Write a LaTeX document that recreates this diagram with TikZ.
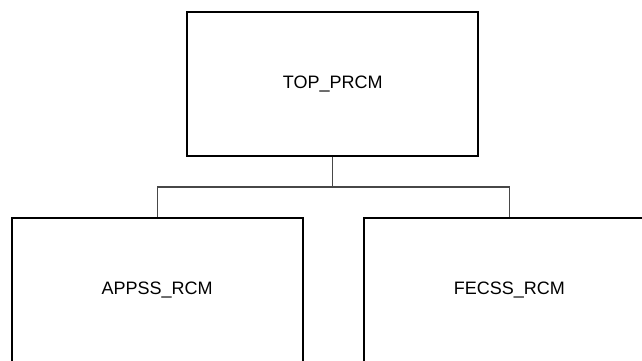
\documentclass[tikz,border=0pt]{standalone}
\usepackage{fontspec}
\setmainfont{Liberation Sans}
\begin{document}
\begin{tikzpicture}[x=1pt,y=-1pt,
  block/.style={draw=black,line width=2pt,fill=none,inner sep=0pt,font=\fontsize{18}{20}\selectfont},
  link/.style={draw=black!72,line width=1.1pt}]
\useasboundingbox (0,0) rectangle (642,360);
\clip (0,0) rectangle (642,360);
% parent block
\node[block,minimum width=291pt,minimum height=144pt] (top) at (332.8,83.7) {TOP\_PRCM};
% child blocks (extend past the page edge)
\node[block,minimum width=291pt,minimum height=145pt] (app) at (157.2,290) {APPSS\_RCM};
\node[block,minimum width=291pt,minimum height=145pt] (fec) at (509.3,290) {FECSS\_RCM};
% tree connector
\coordinate (bus) at (332.8,187);
\draw[link] (top.south) -- (bus);
\draw[link] (app.north) |- (bus) -| (fec.north);
\end{tikzpicture}
\end{document}
